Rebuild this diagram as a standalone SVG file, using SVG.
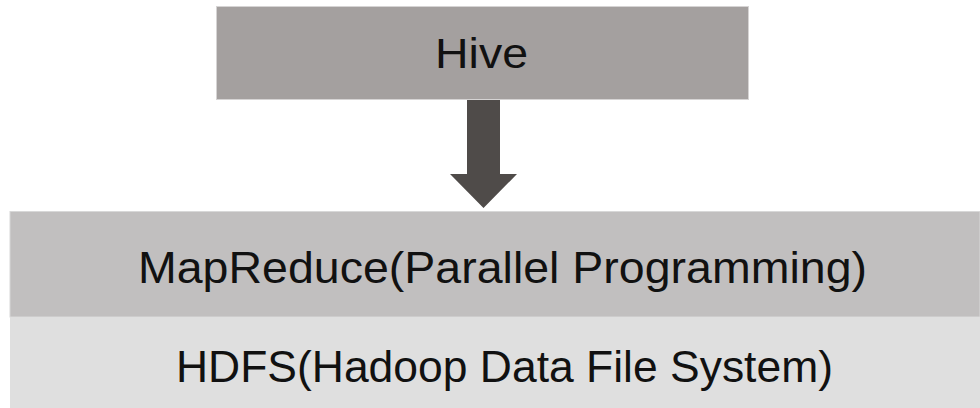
<svg xmlns="http://www.w3.org/2000/svg" width="980" height="408" viewBox="0 0 980 408">
<style>
.lbl{font-family:"Liberation Sans","Noto Sans",sans-serif;fill:#111;text-anchor:middle}
</style>
<rect width="980" height="408" fill="#ffffff"/>
<g id="hive">
<rect x="216.5" y="6.5" width="532" height="93" fill="#a4a09f" stroke="#d6d4d4" stroke-width="1"/>
<text class="lbl" x="481.5" y="68" font-size="43" textLength="93" lengthAdjust="spacingAndGlyphs">Hive</text>
</g>
<g id="connectors">
<polygon points="467,100 500,100 500,174 517,174 483.5,208 450,174 467,174" fill="#4f4b49"/>
</g>
<g id="mapreduce">
<rect x="10" y="211.5" width="970" height="105.5" fill="#c1bfbf" stroke="#d8d8d8" stroke-width="1"/>
<text class="lbl" x="502.5" y="283" font-size="45" textLength="729" lengthAdjust="spacingAndGlyphs">MapReduce(Parallel Programming)</text>
</g>
<g id="hdfs">
<rect x="10" y="317" width="970" height="91" fill="#dfdfdf"/>
<text class="lbl" x="504.5" y="382" font-size="45" textLength="657" lengthAdjust="spacingAndGlyphs">HDFS(Hadoop Data File System)</text>
</g>
</svg>
